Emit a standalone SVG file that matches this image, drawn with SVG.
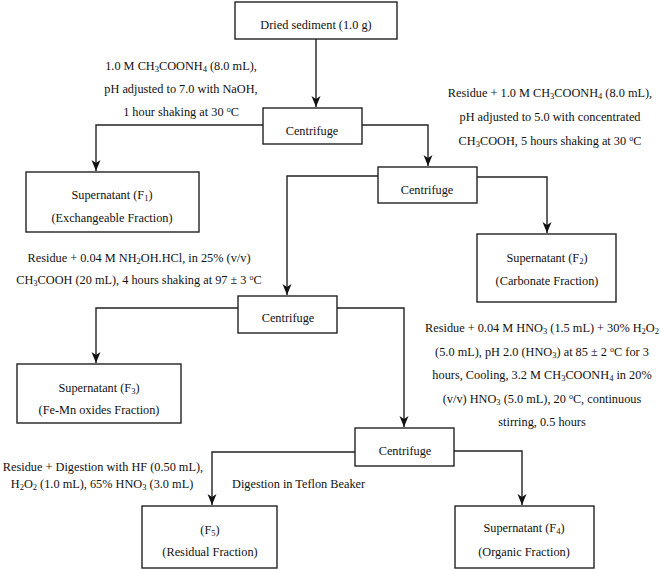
<svg xmlns="http://www.w3.org/2000/svg" width="661" height="570" viewBox="0 0 661 570">
<style>
text{font-family:'Liberation Serif',Tinos,'Times New Roman','Nimbus Roman','DejaVu Serif',serif;font-size:12.3px;fill:#111;text-anchor:middle}
.l{text-anchor:start}
.s{font-size:8.5px;baseline-shift:-2px}
.p{font-size:8px;baseline-shift:4.5px}
rect{fill:#fff;stroke:#222;stroke-width:1.4}
.c path{fill:none;stroke:#222;stroke-width:1.4;marker-end:url(#a)}
</style>
<defs>
<marker id="a" viewBox="-11 -5 12 10" refX="0" refY="0" markerWidth="12" markerHeight="10" markerUnits="userSpaceOnUse" orient="auto">
<path d="M-11,-4.5 L0,0 L-11,4.5 L-8,0 z" fill="#111"/>
</marker>
</defs>
<rect x="0" y="0" width="661" height="570" style="fill:#fff;stroke:none"/>
<g class="c" id="connectors">
<path d="M316,39 V107"/>
<path d="M263,125 H96 V171"/>
<path d="M362,125 H428 V166"/>
<path d="M378,176 H287 V295"/>
<path d="M477,177 H547 V233"/>
<path d="M238,308 H96 V363"/>
<path d="M337,308 H404 V427"/>
<path d="M355,452 H212 V505"/>
<path d="M454,451 H522 V505"/>
</g>
<g id="n_sediment"><rect x="235" y="2" width="162" height="37"/><text x="316" y="28.5">Dried sediment (1.0 g)</text></g>
<g id="n_c1"><rect x="263" y="108" width="99" height="36"/><text x="312" y="134.5">Centrifuge</text></g>
<g id="n_f1"><rect x="26" y="172" width="173" height="60"/><text x="112" y="199">Supernatant (F<tspan class="s">1</tspan>)</text><text x="112" y="222">(Exchangeable Fraction)</text></g>
<g id="n_c2"><rect x="378" y="167" width="99" height="36"/><text x="427" y="193.5">Centrifuge</text></g>
<g id="n_f2"><rect x="477" y="234" width="139" height="68"/><text x="547" y="262">Supernatant (F<tspan class="s">2</tspan>)</text><text x="547" y="285">(Carbonate Fraction)</text></g>
<g id="n_c3"><rect x="238" y="296" width="99" height="37"/><text x="288" y="322">Centrifuge</text></g>
<g id="n_f3"><rect x="17" y="364" width="164" height="59"/><text x="99" y="392">Supernatant (F<tspan class="s">3</tspan>)</text><text x="99" y="414">(Fe-Mn oxides Fraction)</text></g>
<g id="n_c4"><rect x="355" y="428" width="99" height="38"/><text x="405" y="455">Centrifuge</text></g>
<g id="n_f5"><rect x="142" y="506" width="135" height="62"/><text x="210" y="534">(F<tspan class="s">5</tspan>)</text><text x="210" y="556">(Residual Fraction)</text></g>
<g id="n_f4"><rect x="455" y="506" width="139" height="62"/><text x="524" y="532">Supernatant (F<tspan class="s">4</tspan>)</text><text x="524" y="556">(Organic Fraction)</text></g>
<g id="labels">
<text x="181" y="69.5">1.0 M CH<tspan class="s">3</tspan>COONH<tspan class="s">4</tspan> (8.0 mL),</text>
<text x="181" y="92.5">pH adjusted to 7.0 with NaOH,</text>
<text x="181" y="115.5">1 hour shaking at 30 <tspan class="p">o</tspan>C</text>
<text x="550" y="97">Residue + 1.0 M CH<tspan class="s">3</tspan>COONH<tspan class="s">4</tspan> (8.0 mL),</text>
<text x="550" y="121">pH adjusted to 5.0 with concentrated</text>
<text x="550" y="145">CH<tspan class="s">3</tspan>COOH, 5 hours shaking at 30 <tspan class="p">o</tspan>C</text>
<text x="139" y="262">Residue + 0.04 M NH<tspan class="s">2</tspan>OH.HCl, in 25% (v/v)</text>
<text x="139" y="284">CH<tspan class="s">3</tspan>COOH (20 mL), 4 hours shaking at 97 ± 3 <tspan class="p">o</tspan>C</text>
<text x="542" y="332">Residue + 0.04 M HNO<tspan class="s">3</tspan> (1.5 mL) + 30% H<tspan class="s">2</tspan>O<tspan class="s">2</tspan></text>
<text x="542" y="355.5">(5.0 mL), pH 2.0 (HNO<tspan class="s">3</tspan>) at 85 ± 2 <tspan class="p">o</tspan>C for 3</text>
<text x="542" y="379">hours, Cooling, 3.2 M CH<tspan class="s">3</tspan>COONH<tspan class="s">4</tspan> in 20%</text>
<text x="542" y="402.5">(v/v) HNO<tspan class="s">3</tspan> (5.0 mL), 20 <tspan class="p">o</tspan>C, continuous</text>
<text x="542" y="426">stirring, 0.5 hours</text>
<text x="103" y="471">Residue + Digestion with HF (0.50 mL),</text>
<text x="102" y="488">H<tspan class="s">2</tspan>O<tspan class="s">2</tspan> (1.0 mL), 65% HNO<tspan class="s">3</tspan> (3.0 mL)</text>
<text class="l" x="232" y="488">Digestion in Teflon Beaker</text>
</g>
</svg>
